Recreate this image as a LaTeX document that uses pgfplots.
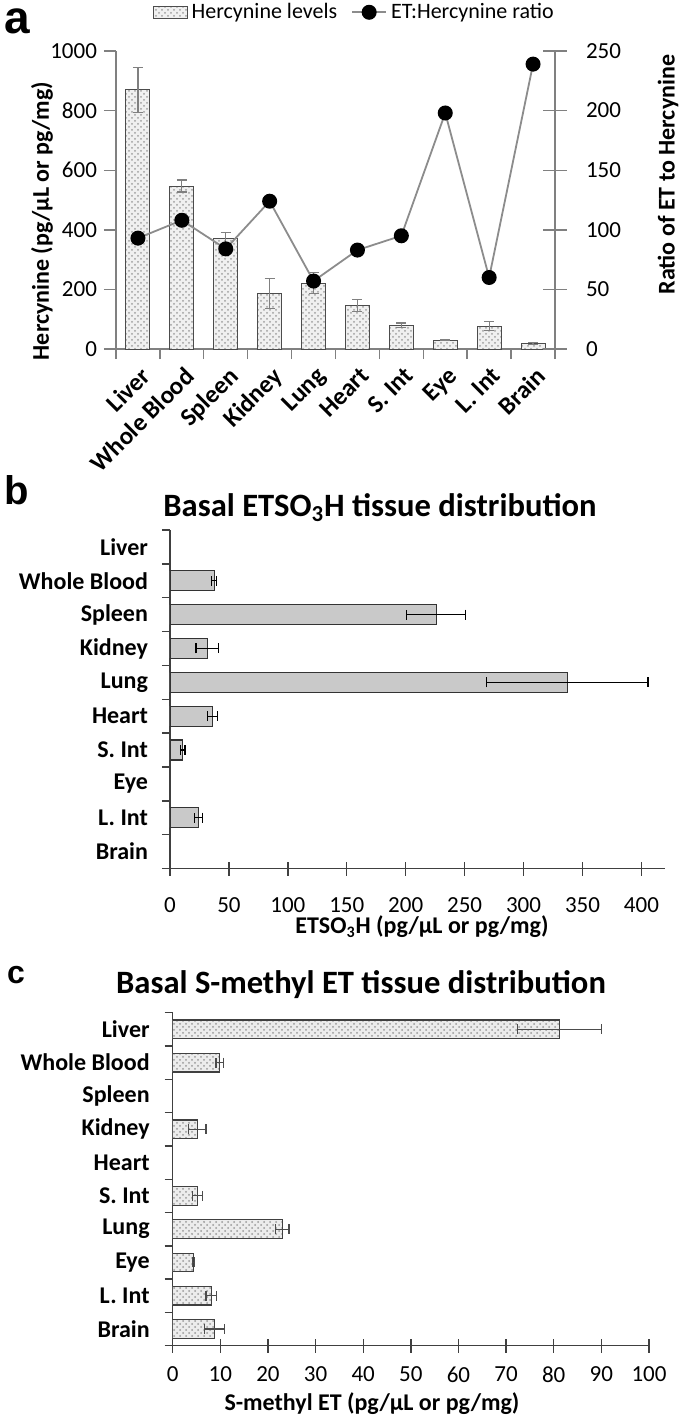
\documentclass[border=0pt]{standalone}
\usepackage{fontspec}
\setmainfont{Carlito}
\newfontfamily\letterfont{Liberation Sans}
\usepackage{pgfplots}
\pgfplotsset{compat=1.18}
\usetikzlibrary{patterns}
\definecolor{axgray}{HTML}{808080}
\definecolor{linegray}{HTML}{8C8C8C}
\begin{document}
\begin{tikzpicture}
\useasboundingbox (0,0) rectangle (342.5pt,-713pt);
\pgfplotsset{
  every axis/.append style={/pgf/number format/assume math mode=true,
    /pgf/number format/1000 sep={},
    tick label style={font=\fontsize{11.5}{13}\selectfont}},
}
% ---------------- panel a ----------------
\begin{axis}[
  at={(58pt,-174.5pt)}, anchor=south west,
  scale only axis, width=219.5pt, height=149pt,
  xmin=-0.5, xmax=9.5, ymin=0, ymax=1000,
  axis x line*=bottom, axis y line*=left,
  axis line style={axgray, line width=0.7pt},
  xtick={0,...,9},
  xticklabels={Liver,Whole Blood,Spleen,Kidney,Lung,Heart,S. Int,Eye,L. Int,Brain},
  xticklabel style={rotate=45, anchor=north east, font=\bfseries\fontsize{12.5}{14}\selectfont, inner sep=1pt, yshift=-1pt, xshift=0pt},
  major x tick style={draw=none},
  minor xtick={-0.5,0.5,...,9.5},
  minor x tick style={axgray, line width=0.7pt},
  minor tick length=5pt,
  ytick={0,200,...,1000},
  y tick style={axgray, line width=0.7pt},
  tick align=outside, major tick length=6pt,
]
\addplot[ybar, bar width=12pt, draw=black!70, line width=0.5pt,
  fill=gray!12, postaction={pattern=crosshatch dots, pattern color=gray!75},
  error bars/.cd, y dir=both, y explicit, error mark=|,
  error bar style={axgray, line width=0.6pt},
  error mark options={axgray, mark size=2.5pt, line width=0.6pt}]
coordinates {
(0,870) +- (0,75)
(1,547) +- (0,20)
(2,372) +- (0,20)
(3,186) +- (0,50)
(4,221) +- (0,36)
(5,147) +- (0,20)
(6,80) +- (0,7)
(7,30) +- (0,2)
(8,76) +- (0,15)
(9,18) +- (0,4)
};
\end{axis}
\begin{axis}[
  at={(58pt,-174.5pt)}, anchor=south west,
  scale only axis, width=219.5pt, height=149pt,
  xmin=-0.5, xmax=9.5, ymin=0, ymax=250,
  axis x line=none, axis y line*=right,
  axis line style={axgray, line width=0.7pt},
  ytick={0,50,...,250},
  y tick style={axgray, line width=0.7pt},
  yticklabel style={xshift=6pt},
  tick align=center, major tick length=12pt,
  legend style={at={(0.545,1.13)}, anchor=center, draw=none, fill=none,
    font=\fontsize{11}{13}\selectfont, legend columns=2,
    /tikz/every even column/.append style={column sep=5pt}},
  legend cell align=left,
]
\addlegendimage{area legend, draw=black!70, fill=gray!12, postaction={pattern=crosshatch dots, pattern color=gray!75}}
\addlegendentry{Hercynine levels}
\addplot[linegray, line width=0.9pt, mark=*, mark size=3.3pt,
  mark options={fill=black, draw=black}]
coordinates {
(0,93) (1,108) (2,84) (3,124) (4,57) (5,83) (6,95) (7,198) (8,60) (9,239)
};
\addlegendentry{ET:Hercynine ratio}
\end{axis}
\node[rotate=90, font=\bfseries\fontsize{12}{14}\selectfont] at (21pt,-110.5pt) {Hercynine (pg/µL or pg/mg)};
\node[rotate=90, font=\bfseries\fontsize{12}{14}\selectfont] at (334pt,-87.3pt) {Ratio of ET to Hercynine};
\node[font=\letterfont\bfseries\fontsize{23}{26}\selectfont, inner sep=0pt, anchor=base west] at (2pt,-16.5pt) {a};
% ---------------- panel b ----------------
\begin{axis}[
  at={(85pt,-434.25pt)}, anchor=south west,
  scale only axis, width=247.5pt, height=169.25pt,
  xmin=0, xmax=420, ymin=-0.5, ymax=9.5, y dir=reverse,
  axis x line*=bottom, axis y line*=left,
  axis line style={black!75, line width=0.7pt},
  xtick={0,50,...,400},
  x tick style={black!75, line width=0.7pt, yshift=3.5pt},
  ytick={0,...,9},
  yticklabels={Liver,Whole Blood,Spleen,Kidney,Lung,Heart,S. Int,Eye,L. Int,Brain},
  yticklabel style={font=\bfseries\fontsize{12}{14}\selectfont, xshift=-0.5pt},
  major y tick style={draw=none},
  minor ytick={-0.5,0.5,...,9.5},
  minor y tick style={black!75, line width=0.7pt},
  minor tick length=4pt,
  tick align=outside, major tick length=7pt,
  xticklabel style={yshift=-4pt},
]
\addplot[xbar, bar width=10pt, draw=black!80, line width=0.6pt,
  fill=gray!42,
  error bars/.cd, x dir=both, x explicit, error mark=|,
  error bar style={black, line width=0.6pt},
  error mark options={black, mark size=2.5pt, line width=0.6pt}]
coordinates {
(37.5,1) +- (2,0)
(226,2) +- (25,0)
(31.6,3) +- (9.5,0)
(337,4) +- (68.5,0)
(36,5) +- (4,0)
(10.7,6) +- (2,0)
(24,8) +- (3.5,0)
};
\end{axis}
\node[font=\bfseries\fontsize{16.3}{19}\selectfont] at (190pt,-254pt) {Basal ETSO\textsubscript{3}H tissue distribution};
\node[font=\bfseries\fontsize{12}{14}\selectfont] at (211pt,-463.5pt) {ETSO\textsubscript{3}H (pg/µL or pg/mg)};
\node[font=\letterfont\bfseries\fontsize{20}{24}\selectfont] at (8.5pt,-245pt) {b};
% ---------------- panel c ----------------
\begin{axis}[
  at={(86.35pt,-672.85pt)}, anchor=south west,
  scale only axis, width=238.15pt, height=166.5pt,
  xmin=0, xmax=100, ymin=-0.5, ymax=9.5, y dir=reverse,
  axis x line*=bottom, axis y line*=left,
  axis line style={black!75, line width=0.7pt},
  xtick={0,10,...,100},
  x tick style={black!75, line width=0.7pt, yshift=3.5pt},
  ytick={0,...,9},
  yticklabels={Liver,Whole Blood,Spleen,Kidney,Heart,S. Int,Lung,Eye,L. Int,Brain},
  yticklabel style={font=\bfseries\fontsize{12}{14}\selectfont, xshift=-1pt},
  major y tick style={draw=none},
  minor ytick={-0.5,0.5,...,9.5},
  minor y tick style={black!75, line width=0.7pt},
  minor tick length=4pt,
  tick align=outside, major tick length=7pt,
  xticklabel style={yshift=0pt},
]
\addplot[xbar, bar width=9.3pt, draw=black!75, line width=0.6pt,
  fill=gray!15, postaction={pattern=crosshatch dots, pattern color=gray!80},
  error bars/.cd, x dir=both, x explicit, error mark=|,
  error bar style={black!70, line width=0.6pt},
  error mark options={black!70, mark size=2.5pt, line width=0.6pt}]
coordinates {
(81.2,0) +- (8.8,0)
(9.9,1) +- (0.8,0)
(5.2,3) +- (1.8,0)
(5.2,5) +- (1.1,0)
(23,6) +- (1.4,0)
(4.4,7) +- (0.2,0)
(8.1,8) +- (1.1,0)
(8.7,9) +- (2.1,0)
};
\end{axis}
\node[font=\bfseries\fontsize{16.3}{19}\selectfont] at (180.5pt,-492.5pt) {Basal S-methyl ET tissue distribution};
\node[font=\bfseries\fontsize{12}{14}\selectfont] at (186pt,-702pt) {S-methyl ET (pg/µL or pg/mg)};
\node[font=\letterfont\bfseries\fontsize{16}{19}\selectfont] at (8pt,-487.5pt) {c};
\end{tikzpicture}
\end{document}
